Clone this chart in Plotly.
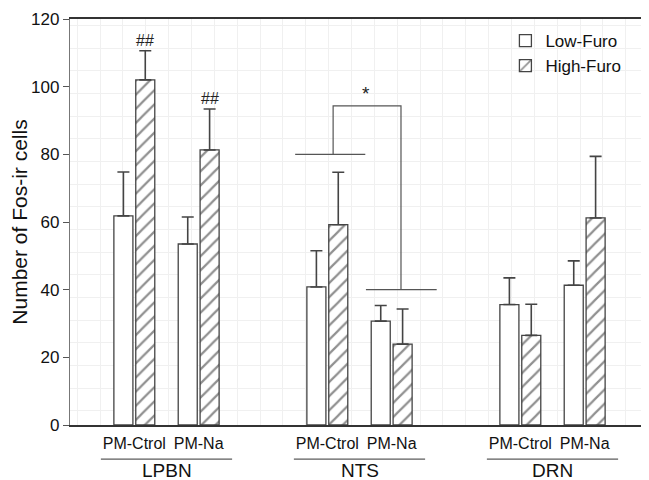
import plotly.graph_objects as go

# ---- data ----
regions = ["LPBN", "NTS", "DRN"]
conditions = ["PM-Ctrol", "PM-Na"]
positions = [0, 1, 3, 4, 6, 7]          # slot of each region/condition pair
tick_labels = ["PM-Ctrol", "PM-Na", "PM-Ctrol", "PM-Na", "PM-Ctrol", "PM-Na"]
group_centers = [0.5, 3.5, 6.5]

low_furo = [61.8, 53.5, 40.8, 30.7, 35.6, 41.3]
low_err = [13.0, 8.0, 10.7, 4.6, 7.9, 7.2]
high_furo = [102.0, 81.3, 59.2, 23.9, 26.5, 61.2]
high_err = [8.6, 12.1, 15.5, 10.4, 9.2, 18.2]

hash_marks = ["##", "##", "", "", "", ""]

FONT = "Liberation Sans, Arial, Helvetica, sans-serif"
LINE = "#444444"
OFF = 0.17

fig = go.Figure()
fig.add_trace(go.Bar(
    x=positions, y=low_furo, name="Low-Furo",
    marker=dict(color="white", line=dict(color=LINE, width=1.3)),
    error_y=dict(type="data", array=low_err, arrayminus=[0] * 6, symmetric=False,
                 color="#444444", thickness=1.6, width=6),
))
fig.add_trace(go.Bar(
    x=positions, y=high_furo, name="High-Furo",
    marker=dict(color="white", line=dict(color=LINE, width=1.3),
                pattern=dict(shape="/", fgcolor="#222222", bgcolor="white", size=10, solidity=0.22)),
    error_y=dict(type="data", array=high_err, arrayminus=[0] * 6, symmetric=False,
                 color="#444444", thickness=1.6, width=6),
))

# significance marks above High-Furo bars
for p, v, e, t in zip(positions, high_furo, high_err, hash_marks):
    if t:
        fig.add_annotation(x=p + OFF, y=v + e, text=t, showarrow=False, yanchor="bottom",
                           yshift=0, font=dict(family=FONT, size=16, color="#222"))

# NTS comparison bracket
nts_i = 3.0
nts_n = 4.0
fig.add_shape(type="line", x0=nts_i - 0.5, x1=nts_i + 0.59, y0=80, y1=80, line=dict(color="#555", width=1.2))
fig.add_shape(type="line", x0=nts_n - 0.4, x1=nts_n + 0.7, y0=40, y1=40, line=dict(color="#555", width=1.2))
fig.add_shape(type="path", path=f"M {nts_i + 0.09},80 L {nts_i + 0.09},94.3 L {nts_n + 0.145},94.3 L {nts_n + 0.145},40",
              line=dict(color="#555", width=1.2))
fig.add_annotation(x=3.6, y=94.3, text="*", showarrow=False, yanchor="bottom", yshift=0,
                   font=dict(family=FONT, size=19, color="#222"))

# region labels with underline
for c, r in zip(group_centers, regions):
    fig.add_shape(type="line", xref="x", yref="paper", x0=c - 1.02, x1=c + 1.02, y0=-0.084, y1=-0.084,
                  line=dict(color="#333", width=1))
    fig.add_annotation(x=c, xref="x", y=-0.112, yref="paper", text=r, showarrow=False,
                       yanchor="middle", font=dict(family=FONT, size=19, color="#111"))

# page body has an 8px margin: size the figure so the plot lands where the reference has it
fig.update_layout(
    width=641, height=472,
    margin=dict(l=62, r=0, t=11, b=55, autoexpand=False),
    paper_bgcolor="white", plot_bgcolor="white",
    barmode="group", bargap=0.32, bargroupgap=0.13,
    font=dict(family=FONT, color="#111"),
    legend=dict(x=0.752, y=0.99, xanchor="left", yanchor="top", bgcolor="rgba(0,0,0,0)",
                font=dict(family=FONT, size=17, color="#111"), tracegroupgap=0, itemwidth=30),
    showlegend=True,
)
fig.update_xaxes(
    range=[-1, 8], tickmode="array", tickvals=positions, ticktext=tick_labels,
    tickfont=dict(family=FONT, size=16, color="#111"), ticks="", showgrid=False, ticklabelstandoff=3,
    showline=True, linecolor="#333", linewidth=1.5, mirror=True, zeroline=False,
    minor=dict(tickmode="linear", tick0=4.441, dtick=0.3553, showgrid=True, gridcolor="#f0f0f0", gridwidth=1, ticks=""),
)
fig.update_yaxes(
    range=[0, 120], tickvals=[0, 20, 40, 60, 80, 100, 120], ticks="outside", ticklen=6,
    tickcolor="#555", tickfont=dict(family=FONT, size=17, color="#111"),
    showline=True, linecolor="#777", linewidth=1.3, showgrid=False, zeroline=False,
    title=dict(text="Number of Fos-ir cells", font=dict(family=FONT, size=21, color="#111"), standoff=7),
    minor=dict(tickmode="linear", tick0=4.23, dtick=6.7, showgrid=True, gridcolor="#f0f0f0", gridwidth=1, ticks=""),
)

fig.write_html("out.html")
